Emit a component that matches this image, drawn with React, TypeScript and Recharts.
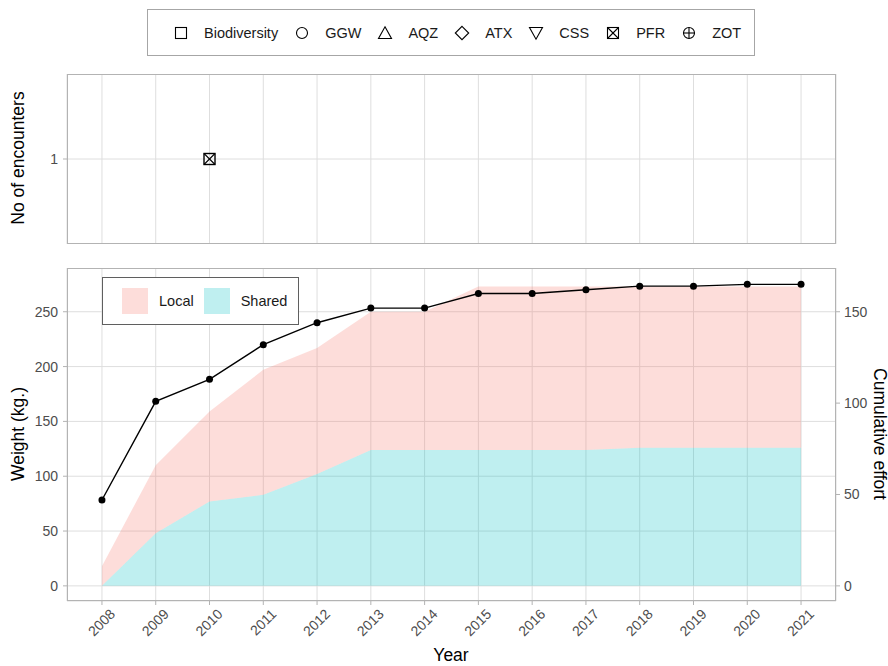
import React from 'react';
import {
  ComposedChart,
  ScatterChart,
  Scatter,
  Area,
  Line,
  XAxis,
  YAxis,
  CartesianGrid,
} from 'recharts';

// ---------- data ----------
const years = [2008, 2009, 2010, 2011, 2012, 2013, 2014, 2015, 2016, 2017, 2018, 2019, 2020, 2021];
const sharedWeight = [0, 48, 77, 83, 102, 124, 124, 124, 124, 124, 126, 126, 126, 126];
const localWeight = [18, 62, 82, 114, 115, 126, 126, 149, 149, 149, 147, 147, 147, 147];
const cumulativeEffort = [47, 101, 113, 132, 144, 152, 152, 160, 160, 162, 164, 164, 165, 165];

const encounterYears = [2010];
const encounterCounts = [1];
const encounterProjects = ['PFR'];

const legendProjects = ['Biodiversity', 'GGW', 'AQZ', 'ATX', 'CSS', 'PFR', 'ZOT'];
const areaLegend = ['Local', 'Shared'];

const weightTicks = [0, 50, 100, 150, 200, 250];
const effortTicks = [0, 50, 100, 150];
const encounterTicks = [1];

const weightDomain: [number, number] = [-13.8, 289.9];
const effortRatio = 0.6;
const effortDomain: [number, number] = [weightDomain[0] * effortRatio, weightDomain[1] * effortRatio];
const xDomain: [number, number] = [2007.35, 2021.65];

const weightData = years.map((y, i) => ({
  year: y,
  shared: sharedWeight[i],
  local: localWeight[i],
  effort: cumulativeEffort[i],
}));
const encounterData = encounterYears.map((y, i) => ({
  year: y,
  count: encounterCounts[i],
  project: encounterProjects[i],
}));

// ---------- styles ----------
const FONT = '"Liberation Sans", Arial, sans-serif';
const TICK_COLOR = '#4D4D4D';
const GRID = '#DEDEDE';
const BORDER = '#B3B3B3';
const LOCAL_FILL = '#F8766D';
const SHARED_FILL = '#00BFC4';

// ---------- symbols ----------
const Symbol = ({ name, size = 14 }: { name: string; size?: number }) => {
  const s = size;
  const c = s / 2;
  const common = { fill: 'none', stroke: '#000', strokeWidth: 1.1 };
  let el: React.ReactNode = null;
  switch (name) {
    case 'Biodiversity':
      el = <rect x={1.5} y={1.5} width={s - 3} height={s - 3} {...common} />;
      break;
    case 'GGW':
      el = <circle cx={c} cy={c} r={c - 1.5} {...common} />;
      break;
    case 'AQZ':
      el = <polygon points={`${c},0.8 ${s - 0.5},${s - 1.5} 0.5,${s - 1.5}`} {...common} />;
      break;
    case 'ATX':
      el = <polygon points={`${c},0.3 ${s - 0.3},${c} ${c},${s - 0.3} 0.3,${c}`} {...common} />;
      break;
    case 'CSS':
      el = <polygon points={`0.5,1.5 ${s - 0.5},1.5 ${c},${s - 0.8}`} {...common} />;
      break;
    case 'PFR':
      el = (
        <g {...common}>
          <rect x={1.5} y={1.5} width={s - 3} height={s - 3} />
          <line x1={1.5} y1={1.5} x2={s - 1.5} y2={s - 1.5} />
          <line x1={s - 1.5} y1={1.5} x2={1.5} y2={s - 1.5} />
        </g>
      );
      break;
    case 'ZOT':
      el = (
        <g {...common}>
          <circle cx={c} cy={c} r={c - 1.5} />
          <line x1={1.5} y1={c} x2={s - 1.5} y2={c} />
          <line x1={c} y1={1.5} x2={c} y2={s - 1.5} />
        </g>
      );
      break;
  }
  return (
    <svg width={s} height={s} style={{ display: 'block', overflow: 'visible' }}>
      {el}
    </svg>
  );
};

// ---------- ticks ----------
const LeftTick = (props: any) => {
  const { x, y, payload } = props;
  return (
    <text x={x} y={y} dy={5} textAnchor="end" fontSize={14} fill={TICK_COLOR} fontFamily={FONT}>
      {payload.value}
    </text>
  );
};
const RightTick = (props: any) => {
  const { x, y, payload } = props;
  return (
    <text x={x} y={y} dy={5} textAnchor="start" fontSize={14} fill={TICK_COLOR} fontFamily={FONT}>
      {payload.value}
    </text>
  );
};
const YearTick = (props: any) => {
  const { x, y, payload } = props;
  const ax = x + 14;
  const ay = y + 8;
  return (
    <text
      x={ax}
      y={ay}
      textAnchor="end"
      fontSize={14}
      fill={TICK_COLOR}
      fontFamily={FONT}
      transform={`rotate(-45, ${ax}, ${ay})`}
    >
      {payload.value}
    </text>
  );
};

const EncounterShape = (props: any) => {
  const { cx, cy, payload } = props;
  const s = 12;
  return (
    <g transform={`translate(${cx - s / 2}, ${cy - s / 2})`}>
      <rect x={0.5} y={0.5} width={s - 1} height={s - 1} fill="none" stroke="#000" strokeWidth={1.4} />
      <line x1={0.5} y1={0.5} x2={s - 0.5} y2={s - 0.5} stroke="#000" strokeWidth={1.1} />
      <line x1={s - 0.5} y1={0.5} x2={0.5} y2={s - 0.5} stroke="#000" strokeWidth={1.1} />
      <title>{payload && payload.project}</title>
    </g>
  );
};

const abs = (style: React.CSSProperties): React.CSSProperties => ({ position: 'absolute', ...style });

export default function App() {
  return (
    <div
      style={{
        position: 'absolute',
        left: 0,
        top: 0,
        width: 888,
        height: 666,
        background: '#fff',
        fontFamily: FONT,
        overflow: 'hidden',
      }}
    >
      {/* top legend */}
      <div
        style={abs({
          left: 147,
          top: 9,
          width: 608,
          height: 47,
          boxSizing: 'border-box',
          border: '1px solid #A6A6A6',
          display: 'flex',
          alignItems: 'center',
          paddingLeft: 26,
        })}
      >
        {legendProjects.map((p) => (
          <div key={p} style={{ display: 'flex', alignItems: 'center', marginRight: 17 }}>
            <Symbol name={p} />
            <span style={{ marginLeft: 16, fontSize: 14.5, color: '#1A1A1A' }}>{p}</span>
          </div>
        ))}
      </div>

      {/* top panel */}
      <div style={abs({ left: 0, top: 74, width: 888, height: 170 })}>
        <ScatterChart width={888} height={170} margin={{ top: 0, right: 52, bottom: 0, left: 0 }}>
          <CartesianGrid stroke={GRID} strokeWidth={1} />
          <XAxis
            dataKey="year"
            type="number"
            domain={xDomain}
            ticks={years}
            allowDataOverflow
            hide
          />
          <YAxis
            dataKey="count"
            type="number"
            domain={[0.5, 1.5]}
            ticks={encounterTicks}
            width={67}
            axisLine={false}
            tickLine={{ stroke: BORDER }}
            tickSize={4}
            tickMargin={5}
            tick={<LeftTick />}
            allowDataOverflow
          />
          <Scatter data={encounterData} isAnimationActive={false} shape={<EncounterShape />} />
        </ScatterChart>
      </div>
      <div
        style={abs({
          left: 67,
          top: 74,
          width: 769,
          height: 170,
          boxSizing: 'border-box',
          border: `1px solid ${BORDER}`,
          pointerEvents: 'none',
        })}
      />
      <div
        style={abs({
          left: 18,
          top: 158,
          fontSize: 17.5,
          color: '#000',
          whiteSpace: 'nowrap',
          transform: 'translate(-50%, -50%) rotate(-90deg)',
        })}
      >
        No of encounters
      </div>

      {/* bottom panel */}
      <div style={abs({ left: 0, top: 268, width: 888, height: 398 })}>
        <ComposedChart width={888} height={398} data={weightData} margin={{ top: 0, right: 0, bottom: 0, left: 0 }}>
          <CartesianGrid yAxisId="left" stroke={GRID} strokeWidth={1} />
          <XAxis
            dataKey="year"
            type="number"
            domain={xDomain}
            ticks={years}
            allowDataOverflow
            height={65}
            axisLine={false}
            tickLine={{ stroke: BORDER }}
            tickSize={4}
            tickMargin={2}
            tick={<YearTick />}
            interval={0}
          />
          <YAxis
            yAxisId="left"
            type="number"
            domain={weightDomain}
            ticks={weightTicks}
            allowDataOverflow
            width={67}
            axisLine={false}
            tickLine={{ stroke: BORDER }}
            tickSize={4}
            tickMargin={5}
            tick={<LeftTick />}
          />
          <YAxis
            yAxisId="right"
            orientation="right"
            type="number"
            domain={effortDomain}
            ticks={effortTicks}
            allowDataOverflow
            width={52}
            axisLine={false}
            tickLine={{ stroke: BORDER }}
            tickSize={4}
            tickMargin={4}
            tick={<RightTick />}
          />
          <Area
            yAxisId="left"
            type="linear"
            dataKey="shared"
            stackId="w"
            stroke="none"
            fill={SHARED_FILL}
            fillOpacity={0.25}
            isAnimationActive={false}
          />
          <Area
            yAxisId="left"
            type="linear"
            dataKey="local"
            stackId="w"
            stroke="none"
            fill={LOCAL_FILL}
            fillOpacity={0.25}
            isAnimationActive={false}
          />
          <Line
            yAxisId="right"
            type="linear"
            dataKey="effort"
            stroke="#000"
            strokeWidth={1.4}
            dot={{ r: 3.5, fill: '#000', stroke: '#000', strokeWidth: 0 }}
            isAnimationActive={false}
          />
        </ComposedChart>
      </div>
      <div
        style={abs({
          left: 67,
          top: 268,
          width: 769,
          height: 333,
          boxSizing: 'border-box',
          border: `1px solid ${BORDER}`,
          pointerEvents: 'none',
        })}
      />

      {/* inner legend */}
      <div
        style={abs({
          left: 102,
          top: 277,
          width: 197,
          height: 48,
          boxSizing: 'border-box',
          border: '1px solid #5F5F5F',
          background: '#fff',
          display: 'flex',
          alignItems: 'center',
          paddingLeft: 19,
        })}
      >
        {areaLegend.map((k) => (
          <div key={k} style={{ display: 'flex', alignItems: 'center', marginRight: 10 }}>
            <div
              style={{
                width: 26,
                height: 26,
                background: k === 'Local' ? LOCAL_FILL : SHARED_FILL,
                opacity: 0.25,
              }}
            />
            <span style={{ marginLeft: 11, fontSize: 14.5, color: '#1A1A1A' }}>{k}</span>
          </div>
        ))}
      </div>

      {/* axis titles */}
      <div
        style={abs({
          left: 18,
          top: 434,
          fontSize: 17.5,
          color: '#000',
          whiteSpace: 'nowrap',
          transform: 'translate(-50%, -50%) rotate(-90deg)',
        })}
      >
        Weight (kg.)
      </div>
      <div
        style={abs({
          left: 879,
          top: 434,
          fontSize: 17.5,
          color: '#000',
          whiteSpace: 'nowrap',
          transform: 'translate(-50%, -50%) rotate(90deg)',
        })}
      >
        Cumulative effort
      </div>
      <div
        style={abs({
          left: 451,
          top: 655,
          fontSize: 17.5,
          color: '#000',
          whiteSpace: 'nowrap',
          transform: 'translate(-50%, -50%)',
        })}
      >
        Year
      </div>
    </div>
  );
}
